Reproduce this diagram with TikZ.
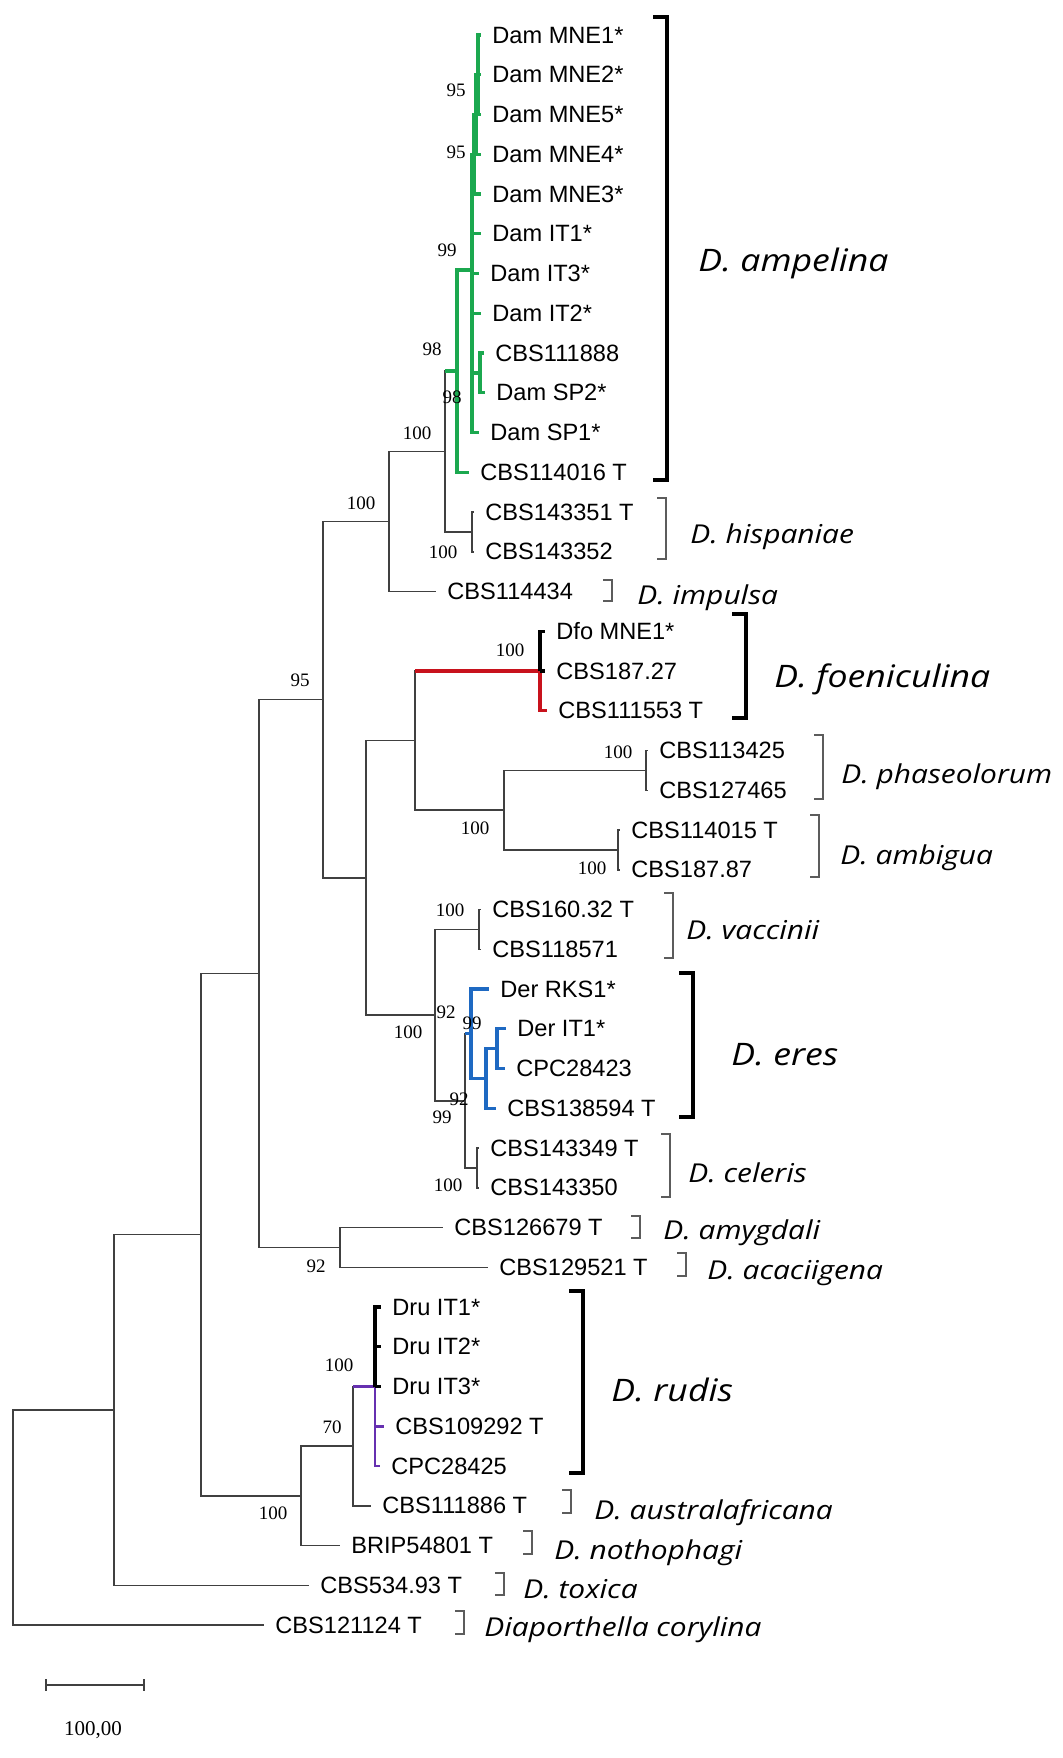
\documentclass[tikz,border=0pt]{standalone}
\usepackage{fontspec}
\setmainfont{Liberation Serif}
\newfontfamily\taxfont{Liberation Sans}
\newfontfamily\spfont[FakeStretch=1.15]{Open Sans}
\usepackage{tikz}
\usetikzlibrary{calc}
\definecolor{branch}{HTML}{404040}
\definecolor{brgray}{HTML}{5C5C5C}
\definecolor{ampgreen}{HTML}{1BA84F}
\definecolor{foered}{HTML}{C8121C}
\definecolor{ereblue}{HTML}{1E69C2}
\definecolor{rudpurple}{HTML}{6630B0}

\begin{document}
\begin{tikzpicture}[x=0.5pt,y=-0.5pt,
  br/.style={draw=branch, line width=0.75pt},
  amp/.style={draw=ampgreen, line width=1.6pt},
  foe/.style={draw=foered, line width=1.6pt},
  ere/.style={draw=ereblue, line width=1.6pt},
  rud/.style={draw=rudpurple, line width=1.4pt},
  blk/.style={draw=black, line width=1.6pt},
  tip/.style={anchor=west, inner xsep=5.5pt, inner ysep=0pt, font=\taxfont\fontsize{11.8}{14}\selectfont},
  bs/.style={inner sep=0pt, font=\fontsize{9.5}{11}\selectfont},
  sp/.style={anchor=base west, inner sep=0pt, font=\spfont\itshape\fontsize{13}{15}\selectfont},
  spbig/.style={anchor=base west, inner sep=0pt, font=\spfont\itshape\fontsize{15.5}{18}\selectfont},
  thinbr/.style={draw=brgray, line width=0.8pt},
  thickbr/.style={draw=black, line width=1.8pt}]
\fill[white] (0,0) rectangle (1063,1758);

% taxa
\foreach \i/\xe/\lab in {0/481/Dam MNE1*, 1/481/Dam MNE2*, 2/481/Dam MNE5*, 3/481/Dam MNE4*,
  4/481/Dam MNE3*, 5/481/Dam IT1*, 6/479/Dam IT3*, 7/481/Dam IT2*, 8/484/CBS111888,
  9/485/Dam SP2*, 10/479/Dam SP1*, 11/469/CBS114016 T, 12/474/CBS143351 T, 13/474/CBS143352,
  14/436/CBS114434, 15/545/Dfo MNE1*, 16/545/CBS187.27, 17/547/CBS111553 T,
  18/648/CBS113425, 19/648/CBS127465, 20/620/CBS114015 T, 21/620/CBS187.87,
  22/481/CBS160.32 T, 23/481/CBS118571, 24/489/Der RKS1*, 25/506/Der IT1*,
  26/505/CPC28423, 27/496/CBS138594 T, 28/479/CBS143349 T, 29/479/CBS143350,
  30/443/CBS126679 T, 31/488/CBS129521 T, 32/381/Dru IT1*, 33/381/Dru IT2*,
  34/381/Dru IT3*, 35/384/CBS109292 T, 36/380/CPC28425, 37/371/CBS111886 T,
  38/340/BRIP54801 T, 39/309/CBS534.93 T, 40/264/CBS121124 T}
  \node[tip] (t\i) at (\xe,{35+39.75*\i}) {\lab};

% internal nodes
\coordinate (c1) at (478,74.75);
\coordinate (c2) at (476,114.5);
\coordinate (c3) at (474,154.25);
\coordinate (c4) at (480,372.9);
\coordinate (c5) at (472,270);
\coordinate (c6) at (457,371);
\coordinate (hisp) at (472,531.9);
\coordinate (n445) at (445,451.5);
\coordinate (n389) at (389,521.5);
\coordinate (foen) at (540,671);
\coordinate (phas) at (646,770.4);
\coordinate (ambi) at (618,849.9);
\coordinate (n504) at (504,810.1);
\coordinate (n413) at (415,740.6);
\coordinate (vacc) at (479,929.4);
\coordinate (n497) at (497,1048.6);
\coordinate (n486) at (486,1078.4);
\coordinate (eres) at (471,1033.7);
\coordinate (cele) at (477,1167.9);
\coordinate (n465) at (465,1100.8);
\coordinate (n435) at (435,1015.1);
\coordinate (n366) at (366,877.9);
\coordinate (n323) at (323,699.7);
\coordinate (amyg) at (340,1247.4);
\coordinate (n259) at (259,973.5);
\coordinate (rudis) at (375,1386.5);
\coordinate (n353) at (353,1446.1);
\coordinate (n301) at (301,1495.8);
\coordinate (n201) at (201,1234.7);
\coordinate (n114) at (114,1410);
\coordinate (root) at (13,1517.5);

% D. ampelina (green)
\foreach \c in {t0,t1,t2} \draw[amp] (c1) |- (\c);
\foreach \c in {c1,t3} \draw[amp] (c2) |- (\c);
\foreach \c in {c2,t4} \draw[amp] (c3) |- (\c);
\foreach \c in {t8,t9} \draw[amp] (c4) |- (\c);
\foreach \c in {c3,t5,t6,t7,c4,t10} \draw[amp] (c5) |- (\c);
\foreach \c in {c5,t11} \draw[amp] (c6) |- (\c);
\draw[br] (n445) |- (c6);
\draw[amp] (n445 |- c6) -- (c6);

% grey backbone
\foreach \c in {t12,t13} \draw[br] (hisp) |- (\c);
\draw[br] (n445) |- (hisp);
\foreach \c in {n445,t14} \draw[br] (n389) |- (\c);
\foreach \c in {t18,t19} \draw[br] (phas) |- (\c);
\foreach \c in {t20,t21} \draw[br] (ambi) |- (\c);
\foreach \c in {phas,ambi} \draw[br] (n504) |- (\c);
\draw[br] (n413) |- (n504);
\draw[br] (n413) |- (foen);
\foreach \c in {t22,t23} \draw[br] (vacc) |- (\c);
\foreach \c in {t28,t29} \draw[br] (cele) |- (\c);
\draw[br] (n465) |- (eres);
\draw[br] (n465) |- (cele);
\foreach \c in {vacc,n465} \draw[br] (n435) |- (\c);
\foreach \c in {n413,n435} \draw[br] (n366) |- (\c);
\foreach \c in {n389,n366} \draw[br] (n323) |- (\c);
\foreach \c in {t30,t31} \draw[br] (amyg) |- (\c);
\foreach \c in {n323,amyg} \draw[br] (n259) |- (\c);
\draw[br] (n353) |- (rudis);
\draw[br] (n353) |- (t37);
\foreach \c in {n353,t38} \draw[br] (n301) |- (\c);
\foreach \c in {n259,n301} \draw[br] (n201) |- (\c);
\foreach \c in {n201,t39} \draw[br] (n114) |- (\c);
\foreach \c in {n114,t40} \draw[br] (root) |- (\c);

% D. foeniculina (red)
\draw[foe] (n413 |- foen) -- (foen);
\draw[foe] (foen) |- (t17);
\draw[blk] (foen) |- (t15);
\draw[blk] (foen) -- (t16);

% D. eres (blue)
\draw[ere] (n465 |- eres) -- (eres);
\foreach \c in {t25,t26} \draw[ere] (n497) |- (\c);
\foreach \c in {n497,t27} \draw[ere] (n486) |- (\c);
\foreach \c in {t24,n486} \draw[ere] (eres) |- (\c);

% D. rudis (purple)
\draw[rud] (n353 |- rudis) -- (rudis);
\foreach \c in {t35,t36} \draw[rud] (rudis) |- (\c);
\foreach \c in {t32,t33} \draw[blk] (rudis) |- (\c);
\draw[blk] (rudis) -- (t34);

% bootstrap values
\foreach \x/\y/\v [count=\k] in {456/90/95, 456/152/95, 447/250/99, 432/349/98, 452/397/98,
  417/433/100, 443/552/100, 361/503/100, 300/680/95, 510/650/100, 618/752/100,
  475/828/100, 592/868/100, 450/910/100, 446/1012/92, 408/1032/100, 472/1023/99,
  459/1099/92, 442/1117/99, 448/1185/100, 316/1266/92, 339/1365/100, 332/1427/70,
  273/1513/100}
  \node[bs] (bs\k) at (\x,\y) {\v};

% brackets
\foreach \x/\t/\b in {667/17/480, 746/614/718, 693/973/1117, 583/1291/1473}
  \draw[thickbr] ({\x-14},\t) -| (\x,\b) -- ({\x-14},\b);
\foreach \x/\t/\b in {666/498/559, 612/580/601, 823/735/799, 819/815/877, 673/893/958,
  670/1134/1197, 640/1216/1238, 686/1253/1276, 571/1490/1513, 532/1531/1554,
  504/1573/1595, 464/1611/1634}
  \draw[thinbr] ({\x-9},\t) -| (\x,\b) -- ({\x-9},\b);

% species
\node[spbig] (sp-amp) at (698,271) {D. ampelina};
\node[sp] (sp-his) at (690,543) {D. hispaniae};
\node[sp] (sp-imp) at (637,604) {D. impulsa};
\node[spbig] (sp-foe) at (774,687) {D. foeniculina};
\node[sp] (sp-pha) at (841,783) {D. phaseolorum};
\node[sp] (sp-amb) at (840,864) {D. ambigua};
\node[sp] (sp-vac) at (686,939) {D. vaccinii};
\node[spbig] (sp-ere) at (731,1065) {D. eres};
\node[sp] (sp-cel) at (688,1182) {D. celeris};
\node[sp] (sp-amy) at (663,1239) {D. amygdali};
\node[sp] (sp-aca) at (707,1279) {D. acaciigena};
\node[spbig] (sp-rud) at (611,1401) {D. rudis};
\node[sp] (sp-aus) at (594,1519) {D. australafricana};
\node[sp] (sp-not) at (554,1559) {D. nothophagi};
\node[sp] (sp-tox) at (523,1598) {D. toxica};
\node[sp] (sp-cor) at (484,1636) {Diaporthella corylina};

% scale bar
\coordinate (sb1) at (46,1685);
\coordinate (sb2) at (144,1685);
\draw[br] (sb1) -- (sb2);
\draw[br] ($(sb1)+(0,-6)$) -- ($(sb1)+(0,6)$);
\draw[br] ($(sb2)+(0,-6)$) -- ($(sb2)+(0,6)$);
\node[inner sep=0pt, font=\fontsize{10.5}{12}\selectfont] (sblab) at (93,1730) {100,00};
\end{tikzpicture}
\end{document}
